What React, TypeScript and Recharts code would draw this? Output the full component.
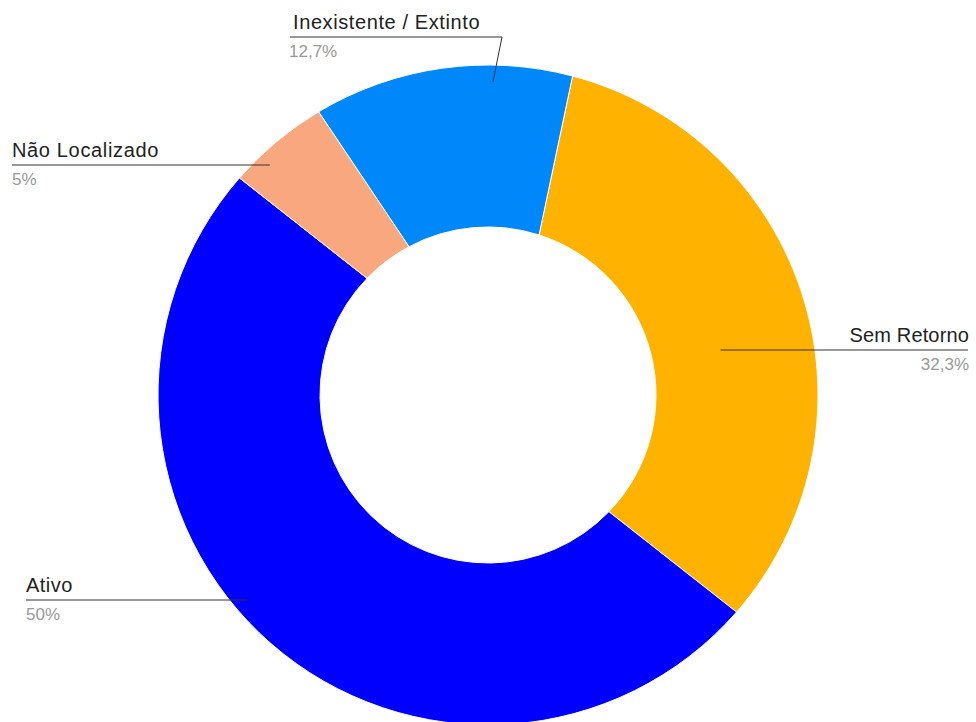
import React from "react";
import { PieChart, Pie, Cell } from "recharts";

// ---- data ----
const categories = ["Sem Retorno", "Ativo", "Não Localizado", "Inexistente / Extinto"];
const values = [32.3, 50, 5, 12.7];
const colors = ["#FFB200", "#0000FF", "#F9A77F", "#0088FA"];

// ---- label layout (annotation positions, not data) ----
const labelLayout = [
  { angle: 79, r: 237, lineY: 350, x0: 721, x1: 968, textX: 969, align: "end", elbow: null, ls: 0.15 },
  { angle: 229.6, r: 316, lineY: 600, x0: 26, x1: 247, textX: 26, align: "start", elbow: null, ls: 0.45 },
  { angle: 316.5, r: 317, lineY: 165, x0: 12, x1: 270, textX: 12, align: "start", elbow: null, ls: 0.65 },
  { angle: 0.9, r: 313, lineY: 37, x0: 290, x1: 502, textX: 293, align: "start", elbow: 502, ls: 0.6 },
];

const data = categories.map((name, i) => ({ name, value: values[i] }));
const total = values.reduce((a, b) => a + b, 0);

const fmtPct = (v: number) => {
  const p = Math.round((v / total) * 1000) / 10;
  return String(p).replace(".", ",") + "%";
};

const FONT = "'Liberation Sans', Arial, sans-serif";
const TWIST = 2.85; // inner edge of each slice is rotated slightly clockwise

const RAD = Math.PI / 180;
const pt = (cx: number, cy: number, r: number, a: number) => [
  cx + r * Math.cos(-RAD * a),
  cy + r * Math.sin(-RAD * a),
];

const TwistedSector = (props: any) => {
  const { cx, cy, innerRadius, outerRadius, startAngle, endAngle, fill } = props;
  const span = Math.abs(endAngle - startAngle);
  const large = span > 180 ? 1 : 0;
  const [ox0, oy0] = pt(cx, cy, outerRadius, startAngle);
  const [ox1, oy1] = pt(cx, cy, outerRadius, endAngle);
  const [ix1, iy1] = pt(cx, cy, innerRadius, endAngle - TWIST);
  const [ix0, iy0] = pt(cx, cy, innerRadius, startAngle - TWIST);
  const d =
    `M${ox0},${oy0} A${outerRadius},${outerRadius} 0 ${large} 1 ${ox1},${oy1} ` +
    `L${ix1},${iy1} A${innerRadius},${innerRadius} 0 ${large} 0 ${ix0},${iy0} Z`;
  return <path d={d} fill={fill} stroke="#fff" strokeWidth={1} strokeLinejoin="round" />;
};

const renderLabel = (props: any) => {
  const { cx, cy, index } = props;
  const L = labelLayout[index];
  const rad = L.angle * RAD;
  const ax = cx + L.r * Math.sin(rad);
  const ay = cy - L.r * Math.cos(rad);
  const name = categories[index];
  const pct = fmtPct(values[index]);
  let path: string;
  if (L.elbow !== null) {
    path = `M${L.x0},${L.lineY} L${L.elbow},${L.lineY} L${ax},${ay}`;
  } else if (L.align === "end") {
    path = `M${ax},${L.lineY} L${L.x1},${L.lineY}`;
  } else {
    path = `M${L.x0},${L.lineY} L${ax},${L.lineY}`;
  }
  const pctX = L.align === "end" ? L.textX : L.textX - (index === 3 ? 4 : 0);
  return (
    <g key={`lbl-${index}`}>
      <path d={path} stroke="#333" strokeWidth={1} fill="none" />
      <text
        x={L.textX}
        y={L.lineY - 8}
        textAnchor={L.align}
        fontFamily={FONT}
        fontSize={20}
        letterSpacing={L.ls}
        fill="#222"
      >
        {name}
      </text>
      <text x={pctX} y={L.lineY + 20} textAnchor={L.align} fontFamily={FONT} fontSize={17} fill="#999">
        {pct}
      </text>
    </g>
  );
};

export default function App() {
  return (
    <div style={{ position: "absolute", left: 0, top: 0, width: 976, height: 722, overflow: "hidden", background: "#fff" }}>
      <PieChart width={976} height={722} margin={{ top: 0, right: 0, bottom: 0, left: 0 }}>
        <Pie
          data={data}
          dataKey="value"
          nameKey="name"
          cx={488}
          cy={395}
          innerRadius={168}
          outerRadius={330}
          startAngle={75.15}
          endAngle={-284.85}
          stroke="#fff"
          strokeWidth={1}
          shape={TwistedSector}
          label={renderLabel}
          labelLine={false}
          isAnimationActive={false}
        >
          {data.map((d, i) => (
            <Cell key={d.name} fill={colors[i]} />
          ))}
        </Pie>
      </PieChart>
    </div>
  );
}
